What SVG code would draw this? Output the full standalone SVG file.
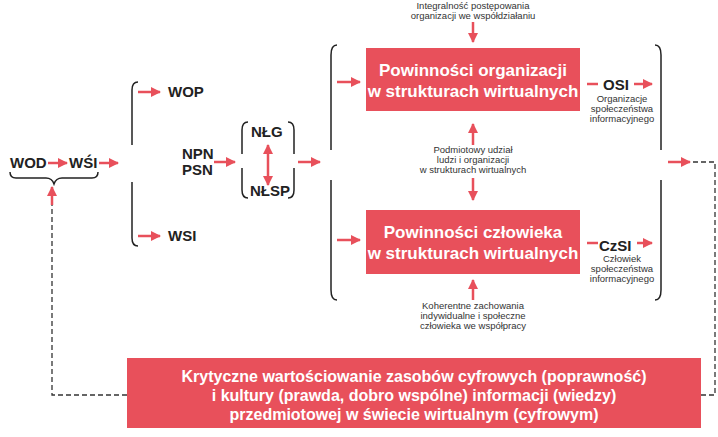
<svg xmlns="http://www.w3.org/2000/svg" width="718" height="437" viewBox="0 0 718 437">
<style>
.b{font-family:"Liberation Sans",Arial,sans-serif;font-weight:bold;fill:#222;font-size:15px}
.s{font-family:"Liberation Sans",Arial,sans-serif;fill:#333;font-size:9.5px;text-anchor:middle}
.w{font-family:"Liberation Sans",Arial,sans-serif;font-weight:bold;fill:#fff;font-size:17px;text-anchor:middle}
.wb{font-family:"Liberation Sans",Arial,sans-serif;font-weight:bold;fill:#fff;font-size:16px;text-anchor:middle}
.a{stroke:#e8505b;stroke-width:2.5;fill:none;marker-end:url(#ah)}
.br{stroke:#222;stroke-width:1.5;fill:none}
.d{stroke:#333;stroke-width:1.3;fill:none;stroke-dasharray:5,3}
.box{fill:#e8505b}
</style>
<defs>
<marker id="ah" viewBox="0 0 10 10" refX="9" refY="5" markerWidth="4" markerHeight="4" orient="auto-start-reverse"><path d="M0,0L10,5L0,10z" fill="#e8505b"/></marker>
</defs>
<rect width="718" height="437" fill="#fff"/>
<g id="wod"><text class="b" x="10" y="168">WOD</text></g>
<g id="wsi1"><text class="b" x="69" y="168">WŚI</text></g>
<g id="wop"><text class="b" x="168" y="97">WOP</text></g>
<g id="wsi2"><text class="b" x="168" y="241">WSI</text></g>
<g id="npn"><text class="b" x="182" y="159" font-size="14">NPN</text><text class="b" x="182" y="175" font-size="14">PSN</text></g>
<g id="nlg"><text class="b" x="251" y="137">NŁG</text></g>
<g id="nlsp"><text class="b" x="250" y="196">NŁSP</text></g>
<g id="box1"><rect class="box" x="366" y="48" width="214" height="63"/><text class="w" x="473" y="76">Powinności organizacji</text><text class="w" x="473" y="97">w strukturach wirtualnych</text></g>
<g id="box2"><rect class="box" x="366" y="210" width="214" height="64"/><text class="w" x="473" y="238">Powinności człowieka</text><text class="w" x="473" y="259">w strukturach wirtualnych</text></g>
<g id="osi"><text class="b" x="603" y="90">OSI</text><text class="s" x="622" y="102">Organizacje</text><text class="s" x="622" y="112">społeczeństwa</text><text class="s" x="622" y="122">informacyjnego</text></g>
<g id="czsi"><text class="b" x="599" y="251">CzSI</text><text class="s" x="622" y="262">Człowiek</text><text class="s" x="622" y="272">społeczeństwa</text><text class="s" x="622" y="282">informacyjnego</text></g>
<g id="top"><text class="s" x="473" y="9">Integralność postępowania</text><text class="s" x="473" y="19">organizacji we współdziałaniu</text></g>
<g id="mid"><text class="s" x="473" y="153">Podmiotowy udział</text><text class="s" x="473" y="163">ludzi i organizacji</text><text class="s" x="473" y="173">w strukturach wirtualnych</text></g>
<g id="bot"><text class="s" x="473" y="309">Koherentne zachowania</text><text class="s" x="473" y="319">indywidualne i społeczne</text><text class="s" x="473" y="329">człowieka we współpracy</text></g>
<g id="bottom"><rect class="box" x="127" y="358" width="574" height="70"/><text class="wb" x="414" y="382">Krytyczne wartościowanie  zasobów cyfrowych (poprawność)</text><text class="wb" x="414" y="401">i kultury (prawda, dobro wspólne) informacji (wiedzy)</text><text class="wb" x="414" y="420">przedmiotowej w świecie wirtualnym (cyfrowym)</text></g>
<g id="connectors">
<path class="a" d="M48,163H67"/>
<path class="a" d="M99,163H118"/>
<path class="a" d="M138,92H160"/>
<path class="a" d="M138,236H160"/>
<path class="a" d="M214,162H235"/>
<path class="a" d="M268,145V185" marker-start="url(#ah)"/>
<path class="a" d="M298,162H320"/>
<path class="a" d="M337,82H360"/>
<path class="a" d="M337,240H360"/>
<path class="a" d="M473,22V42"/>
<path class="a" d="M473,145V124"/>
<path class="a" d="M473,178V200"/>
<path class="a" d="M473,300V280"/>
<path d="M587,84H598" stroke="#e8505b" stroke-width="2.5"/>
<path class="a" d="M634,84H652"/>
<path d="M587,243H598" stroke="#e8505b" stroke-width="2.5"/>
<path class="a" d="M637,243H652"/>
<path class="a" d="M668,162H690"/>
<path class="d" d="M693,162H715V395H701"/>
<path class="d" d="M127,395H52V200"/>
<path class="a" d="M52,205V187"/>
<path class="br" d="M10,172q0,6 6,6h30q6,0 8,6q2,-6 8,-6h30q6,0 6,-6"/>
<path class="br" d="M138,82q-6,0 -6,8v55M132,182v56q0,8 6,8"/>
<path class="br" d="M248,122q-6,0 -6,8v24M242,168v22q0,8 6,8"/>
<path class="br" d="M288,122q6,0 6,8v24M294,168v22q0,8 -6,8"/>
<path class="br" d="M337,45q-6,0 -6,10v95M331,180v110q0,10 6,10"/>
<path class="br" d="M655,45q6,0 6,10v95M661,180v110q0,10 -6,10"/>
</g>
</svg>
